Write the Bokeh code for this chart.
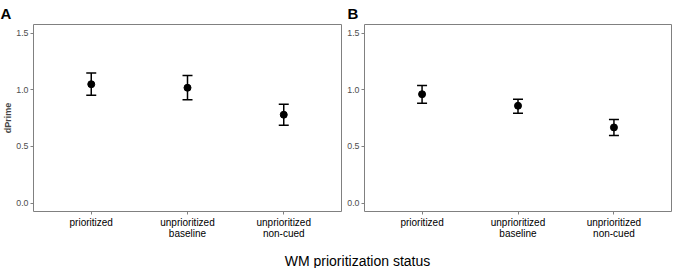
from bokeh.plotting import figure
from bokeh.models import Range1d, FixedTicker, PrintfTickFormatter, Whisker, TeeHead, ColumnDataSource, Label, Title
from bokeh.layouts import row, column
from bokeh.embed import file_html
from bokeh.resources import INLINE

categories = ["prioritized", "unprioritized\nbaseline", "unprioritized\nnon-cued"]
x_pos = [1, 2, 3]
y_ticks = [0.0, 0.5, 1.0, 1.5]

a_mean = [1.048, 1.017, 0.779]
a_lower = [0.950, 0.911, 0.686]
a_upper = [1.148, 1.125, 0.872]

b_mean = [0.960, 0.858, 0.667]
b_lower = [0.881, 0.793, 0.596]
b_upper = [1.037, 0.916, 0.737]

panel_labels = ["A", "B"]
y_label = "dPrime"
x_title = "WM prioritization status"

FONT = "Liberation Sans"
GREY = "#808080"


def make_panel(mean, lower, upper, label, show_ylabel, frame_w, bl, br, label_dx):
    p = figure(frame_width=frame_w, frame_height=187, toolbar_location=None,
               output_backend="svg", x_range=Range1d(0.4, 3.6),
               y_range=Range1d(-0.075, 1.575),
               min_border_top=24, min_border_left=bl, min_border_right=br,
               min_border_bottom=32)
    p.background_fill_color = "white"
    p.border_fill_color = "white"
    p.outline_line_color = GREY
    p.outline_line_width = 1
    p.xgrid.visible = False
    p.ygrid.visible = False

    for ax in (p.xaxis[0], p.yaxis[0]):
        ax.axis_line_color = None
        ax.major_tick_line_color = GREY
        ax.major_tick_in = 0
        ax.major_tick_out = 3
        ax.minor_tick_line_color = None
        ax.major_label_text_font = FONT

    p.yaxis.ticker = FixedTicker(ticks=y_ticks)
    p.yaxis.formatter = PrintfTickFormatter(format="%.1f")
    p.yaxis.major_label_text_font_size = "8.8px"
    p.yaxis.major_label_text_color = "#4d4d4d"
    p.yaxis.major_label_standoff = 2
    if show_ylabel:
        p.yaxis.axis_label = y_label
        p.yaxis.axis_label_text_font = FONT
        p.yaxis.axis_label_text_font_size = "9px"
        p.yaxis.axis_label_text_font_style = "bold"
        p.yaxis.axis_label_standoff = 0

    p.xaxis.ticker = FixedTicker(ticks=x_pos)
    p.xaxis.major_label_overrides = {x: c for x, c in zip(x_pos, categories)}
    p.xaxis.major_label_text_font_size = "10px"
    p.xaxis.major_label_text_color = "black"
    p.xaxis.major_label_text_line_height = 1.0
    p.xaxis.major_label_standoff = 2

    src = ColumnDataSource(dict(x=x_pos, mean=mean, lower=lower, upper=upper))
    w = Whisker(source=src, base="x", lower="lower", upper="upper",
                line_color="black", line_width=1.5,
                lower_head=TeeHead(size=10, line_color="black", line_width=1.5),
                upper_head=TeeHead(size=10, line_color="black", line_width=1.5))
    p.add_layout(w)
    p.scatter("x", "mean", source=src, size=7, color="black")

    p.title = Title(text=label, align="left", offset=label_dx, standoff=5,
                    text_font=FONT, text_font_size="15px", text_font_style="bold",
                    text_color="black")
    return p


pA = make_panel(a_mean, a_lower, a_upper, panel_labels[0], True, 308, 33, 3, -33)
pB = make_panel(b_mean, b_lower, b_upper, panel_labels[1], False, 307, 20, 2, -17)

pT = figure(width=676, height=25, toolbar_location=None, output_backend="svg",
            title=None, x_range=Range1d(0, 676), y_range=Range1d(0, 25),
            x_axis_type=None, y_axis_type=None, min_border=0)
pT.outline_line_color = None
pT.xgrid.visible = False
pT.ygrid.visible = False
pT.add_layout(Label(x=357, y=8, text=x_title, text_align="center",
                    text_baseline="middle", text_font=FONT, text_font_size="14px",
                    text_color="black"))

layout = column(row(pA, pB), pT)
open("out.html", "w").write(file_html(layout, INLINE))
